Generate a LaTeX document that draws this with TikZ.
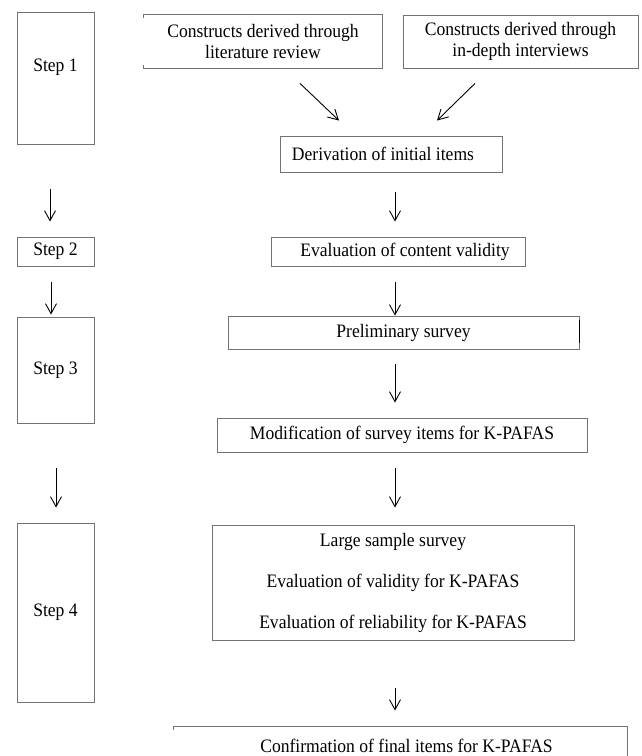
\documentclass[tikz,border=0pt]{standalone}
\usepackage{fontspec}
\setmainfont{Liberation Serif}[FakeStretch=0.925]
\usepackage{tikz}
\usetikzlibrary{arrows.meta, positioning}
\tikzset{
    >={Straight Barb[length=10pt,width=11pt]}, % thin open arrow heads
    flow/.style={->, black}, % every connector is a plain arrow
    box/.style={draw=black!55, rectangle, inner sep=0pt, align=center,
        font=\fontsize{19}{21}\selectfont}, % the boxes of the right column
    stepbox/.style={box, minimum width=77pt}, % the boxes of the left column
    open/.style={draw=none}, % boxes whose sides are drawn by hand
    }

\begin{document}
\begin{tikzpicture}[x=1pt, y=-1pt, line width=0.9pt]
            \clip (0,0) rectangle (641,756);
            % steps
            \node[stepbox, minimum height=132pt, text depth=26pt] (step1) at (55.5,78) {Step 1};
            \node[stepbox, minimum height=29pt] (step2) at (55.5,251.5) {Step 2};
            \node[stepbox, minimum height=106pt] (step3) at (55.5,370) {Step 3};
            \node[stepbox, minimum height=179pt] (step4) at (55.5,612.5) {Step 4};
            % procedure
            \node[box, open, minimum width=238pt, minimum height=53pt] (lit) at (263,41.5) {Constructs derived through\\literature review};
            \node[box, minimum width=235pt, minimum height=53pt] (interv) at (520.5,41.5) {Constructs derived through\\in-depth interviews};
            \node[box, minimum width=222pt, minimum height=36pt] (deriv) at (391,154) {Derivation of initial items\hspace*{16pt}};
            \node[box, minimum width=254pt, minimum height=29pt] (content) at (398,251.5) {\hspace*{14pt}Evaluation of content validity};
            \node[box, minimum width=351pt, minimum height=33pt] (prelim) at (403.5,332.5) {Preliminary survey};
            \node[box, minimum width=370pt, minimum height=34pt] (modif) at (402,435) {Modification of survey items for K-PAFAS};
            \node[box, minimum width=362pt, minimum height=115pt] (large) at (393,582.5) {Large sample survey\\[20pt]Evaluation of validity for K-PAFAS\\[20pt]Evaluation of reliability for K-PAFAS};
            \node[box, open, minimum width=453pt, minimum height=38pt] (confirm) at (400.5,746) {\hspace*{12pt}Confirmation of final items for K-PAFAS};
            \coordinate (spine) at (395,0);
            % broken sides
            \draw[black!55] ([yshift=-3pt]lit.north west) -- (lit.north west) -- (lit.north east) -- (lit.south east) -- (lit.south west) -- ++(0,-3);
            \draw[black!55] ([yshift=-3pt]confirm.north west) -- (confirm.north west) -- (confirm.north east) -- (confirm.south east);
            \draw[black, line width=1.6pt] ([yshift=-4pt]prelim.north east) -- ([yshift=6pt]prelim.south east);
            % arrows
            \draw[flow, shorten <=45pt, shorten >=15pt] ([xshift=-5.5pt]step1.south) -- ([xshift=-5.5pt]step2.north);
            \draw[flow, shorten <=16pt, shorten >=2pt] ([xshift=-4.5pt]step2.south) -- ([xshift=-4.5pt]step3.north);
            \draw[flow, shorten <=45pt, shorten >=15pt] ([xshift=0.5pt]step3.south) -- ([xshift=0.5pt]step4.north);
            \draw[flow] ([xshift=37pt,yshift=-15pt]lit.south) -- ([xshift=-52pt,yshift=15pt]deriv.north);
            \draw[flow] ([xshift=-45.5pt,yshift=-15pt]interv.south) -- ([xshift=46pt,yshift=15pt]deriv.north);
            \draw[flow, shorten <=20pt, shorten >=15pt] (deriv.south -| spine) -- (content.north -| spine);
            \draw[flow, shorten <=16pt] (content.south -| spine) -- (prelim.north -| spine);
            \draw[flow, shorten <=15pt, shorten >=15pt] (prelim.south -| spine) -- (modif.north -| spine);
            \draw[flow, shorten <=16pt, shorten >=17pt] (modif.south -| spine) -- (large.north -| spine);
            \draw[flow, shorten <=48pt, shorten >=16pt] (large.south -| spine) -- (confirm.north -| spine);
\end{tikzpicture}
\end{document}
